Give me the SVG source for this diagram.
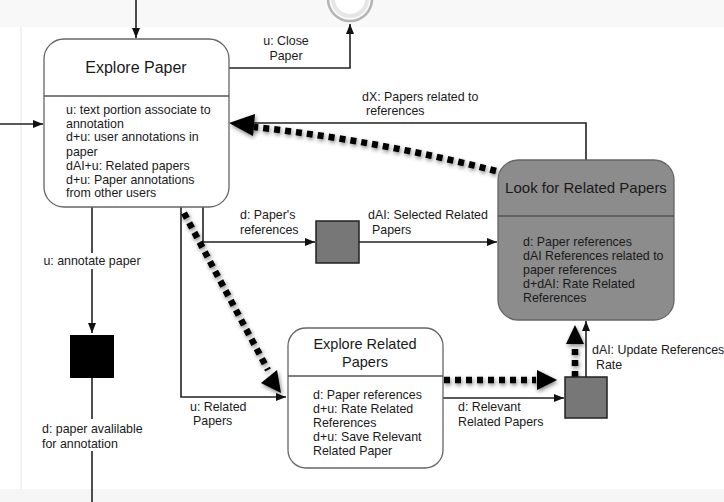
<svg xmlns="http://www.w3.org/2000/svg" width="724" height="502" viewBox="0 0 724 502">
<style>
text{font-family:"Liberation Sans",Arial,sans-serif;fill:#1a1a1a}
.t{font-size:15px}
.b{font-size:12.4px}
.l{font-size:12.4px}
.ln{fill:none;stroke:#222;stroke-width:1.6}
.th{fill:none;stroke:#000;stroke-width:6.5;stroke-dasharray:6 5}
.node{fill:#fff;stroke:#666;stroke-width:1.3}
.gnode{fill:#8c8c8c;stroke:#666;stroke-width:1.3}
.div{stroke:#555;stroke-width:1.3}
</style>
<defs>
<marker id="a" viewBox="0 0 10 8" refX="10" refY="4" markerWidth="10" markerHeight="8" markerUnits="userSpaceOnUse" orient="auto"><path d="M0,0L10,4L0,8z" fill="#111"/></marker>
<filter id="sh" x="-20%" y="-20%" width="140%" height="140%"><feGaussianBlur in="SourceAlpha" stdDeviation="2"/><feOffset dx="1" dy="2" result="o"/><feComponentTransfer><feFuncA type="linear" slope="0.5"/></feComponentTransfer><feMerge><feMergeNode/><feMergeNode in="SourceGraphic"/></feMerge></filter>
</defs>
<rect x="0" y="0" width="724" height="502" fill="#fff"/>
<rect x="0" y="0" width="724" height="27" fill="#f8f8f8"/>
<rect x="0" y="489" width="724" height="13" fill="#f6f6f6"/>
<line x1="21" y1="27" x2="21" y2="489" stroke="#f2f2f2" stroke-width="2"/>
<g id="end">
<circle cx="350" cy="-1" r="22" fill="#fafafa" stroke="#b4b4b4" stroke-width="2.5"/>
<circle cx="350" cy="-1" r="17" fill="#fff" stroke="#e6e6e6" stroke-width="4"/>
</g>
<g id="connectors">
<line class="ln" x1="136" y1="0" x2="136" y2="38" marker-end="url(#a)"/>
<line class="ln" x1="0" y1="124" x2="43" y2="124" marker-end="url(#a)"/>
<polyline class="ln" points="229,68 350,68 350,24" marker-end="url(#a)"/>
<polyline class="ln" points="586,160 586,123 232,123"/>
<polyline class="ln" points="203,207 203,242 315,242" marker-end="url(#a)"/>
<line class="ln" x1="359" y1="242" x2="497" y2="242" marker-end="url(#a)"/>
<line class="ln" x1="92" y1="207" x2="92" y2="333" marker-end="url(#a)"/>
<line class="ln" x1="92" y1="378" x2="92" y2="502"/>
<polyline class="ln" points="181,207 181,397 286,397" marker-end="url(#a)"/>
<line class="ln" x1="443" y1="398" x2="564" y2="398" marker-end="url(#a)"/>
<line class="ln" x1="586" y1="377" x2="586" y2="321" marker-end="url(#a)"/>
<g filter="url(#sh)">
<path class="th" d="M496,171 Q380,141 254,127"/>
<path d="M229,123 L255,114 L253,136 z" fill="#000"/>
<path class="th" d="M184,213 L268,370"/>
<path d="M281,393 L261,383 L277,370 z" fill="#000"/>
<path class="th" d="M444,380 L536,380"/>
<path d="M557,380 L537,370 L537,390 z" fill="#000"/>
<path class="th" d="M575,377 L575,343"/>
<path d="M575,325 L566,344 L584,344 z" fill="#000"/>
</g>
</g>
<g id="explore-paper">
<rect class="node" x="44" y="39" width="185" height="168" rx="20"/>
<line class="div" x1="44" y1="96" x2="229" y2="96"/>
<text class="t" x="136" y="73" text-anchor="middle" style="font-size:16px">Explore Paper</text>
<text class="b" x="66" y="114">u: text portion associate to</text>
<text class="b" x="66" y="128">annotation</text>
<text class="b" x="66" y="141">d+u: user annotations in</text>
<text class="b" x="66" y="156">paper</text>
<text class="b" x="66" y="170">dAI+u: Related papers</text>
<text class="b" x="66" y="184">d+u: Paper annotations</text>
<text class="b" x="66" y="197">from other users</text>
</g>
<g id="look-related">
<rect class="gnode" x="498" y="160" width="176" height="160" rx="20"/>
<line class="div" x1="498" y1="216" x2="674" y2="216"/>
<text class="t" x="586" y="193" text-anchor="middle" style="font-size:15px">Look for Related Papers</text>
<text class="b" x="523" y="246">d: Paper references</text>
<text class="b" x="523" y="260">dAI References related to</text>
<text class="b" x="523" y="274">paper references</text>
<text class="b" x="523" y="288">d+dAI: Rate Related</text>
<text class="b" x="523" y="302">References</text>
</g>
<g id="explore-related">
<rect class="node" x="288" y="328" width="155" height="140" rx="18"/>
<line class="div" x1="288" y1="376" x2="443" y2="376"/>
<text class="t" x="365" y="349" text-anchor="middle" style="font-size:14.5px">Explore Related</text>
<text class="t" x="365" y="367" text-anchor="middle" style="font-size:14.5px">Papers</text>
<text class="b" x="313" y="399">d: Paper references</text>
<text class="b" x="313" y="413">d+u: Rate Related</text>
<text class="b" x="313" y="427">References</text>
<text class="b" x="313" y="441">d+u: Save Relevant</text>
<text class="b" x="313" y="455">Related Paper</text>
</g>
<g id="sq-references">
<rect x="316" y="221" width="43" height="42" fill="#777" stroke="#222" stroke-width="1.5"/>
</g>
<g id="sq-annotate">
<rect x="70" y="335" width="44" height="43" fill="#000"/>
</g>
<g id="sq-relevant">
<rect x="565" y="377" width="42" height="41" fill="#777" stroke="#222" stroke-width="1.5"/>
</g>
<g id="labels">
<text class="l" x="286" y="45" text-anchor="middle">u: Close</text>
<text class="l" x="286" y="60" text-anchor="middle">Paper</text>
<text class="l" x="362" y="101">dX: Papers related to</text>
<text class="l" x="366" y="115">references</text>
<text class="l" x="240" y="219">d: Paper's</text>
<text class="l" x="240" y="234">references</text>
<text class="l" x="368" y="219">dAI: Selected Related</text>
<text class="l" x="372" y="234">Papers</text>
<rect x="38" y="253" width="108" height="16" fill="#fff"/>
<text class="l" x="92" y="265" text-anchor="middle">u: annotate paper</text>
<rect x="40" y="419" width="110" height="32" fill="#fff"/>
<text class="l" x="42" y="433">d: paper avalilable</text>
<text class="l" x="42" y="448">for annotation</text>
<text class="l" x="190" y="411">u: Related</text>
<text class="l" x="193" y="425">Papers</text>
<text class="l" x="458" y="411">d: Relevant</text>
<text class="l" x="458" y="426">Related  Papers</text>
<text class="l" x="592" y="354">dAI: Update References</text>
<text class="l" x="596" y="369">Rate</text>
</g>
</svg>
